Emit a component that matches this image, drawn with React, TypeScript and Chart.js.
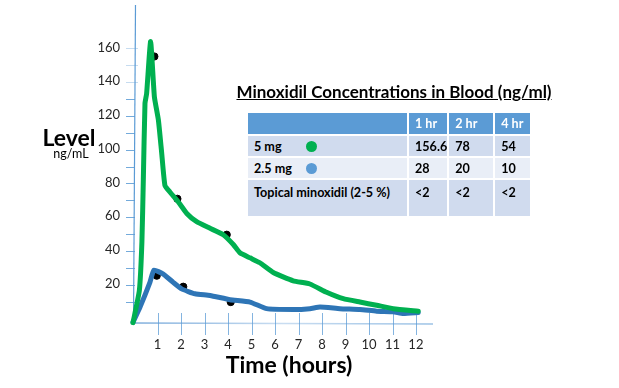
import React, { useEffect, useRef } from "react";
import { Chart, registerables } from "chart.js";

Chart.register(...registerables);

// Hand-drawn concentration curves (hours, ng/mL)
const greenHours = [0, 0.27, 0.38, 0.44, 0.51, 0.58, 0.75, 0.91, 1.08, 1.22, 1.36, 1.57, 1.93, 2.29, 2.71, 3.28, 3.84, 4.27, 4.55, 4.98, 5.4, 5.97, 6.82, 7.53, 8.24, 8.95, 9.66, 10.37, 11.08, 12.14];
const greenLevels = [-2.5, 16.5, 45.7, 82.4, 127.4, 133.2, 164.1, 131.4, 117.6, 98.2, 78.8, 74.9, 69.0, 62.2, 57.3, 53.4, 49.6, 43.8, 38.9, 35.9, 33.0, 27.2, 22.3, 20.4, 15.5, 11.7, 9.7, 7.8, 5.8, 4.3];
const blueHours = [0, 0.3, 0.72, 0.89, 1.29, 1.71, 2.07, 2.64, 3.28, 4.13, 4.98, 5.69, 6.82, 7.53, 7.96, 8.81, 9.66, 10.37, 11.08, 11.5, 12.14];
const blueLevels = [-2.2, 6.8, 21.4, 28.6, 26.3, 21.4, 17.5, 14.6, 13.6, 11.1, 9.7, 5.8, 5.3, 5.8, 6.8, 5.8, 5.3, 4.3, 3.9, 2.9, 3.5];
// Measured points (black dots)
const dotHours = [0.91, 1.89, 3.99, 1.01, 2.14, 4.16];
const dotLevels = [155.2, 70.9, 49.6, 25.3, 18.8, 9.7];

const yTickLabels = [20, 40, 60, 80, 100, 120, 140, 160];
const yTickMarks = [10, 20, 30, 40, 50, 60, 70, 80, 90, 100, 110, 120, 130, 140, 150, 160];
const xTickLabels = [1, 2, 3, 4, 5, 6, 7, 8, 9, 10, 11, 12];

const tableTitle = "Minoxidil Concentrations in Blood (ng/ml)";
const tableHeader = ["", "1 hr", "2 hr", "4 hr"];
const tableRows = [
  { label: "5 mg", dot: "#00B050", values: ["156.6", "78", "54"] },
  { label: "2.5 mg", dot: "#5B9BD5", values: ["28", "20", "10"] },
  { label: "Topical minoxidil (2-5 %)", dot: "", values: ["<2", "<2", "<2"] },
];

const FONT = "Lato, 'Open Sans', sans-serif";

const axesPlugin = {
  id: "handAxes",
  beforeDatasetsDraw(chart: any) {
    const { ctx, chartArea, scales } = chart;
    const xs = scales.x;
    const ys = scales.y;
    const x0 = xs.getPixelForValue(0);
    const bottom = chartArea.bottom;
    ctx.save();
    // y axis
    ctx.strokeStyle = "#5B9BD5";
    ctx.lineWidth = 1.2;
    ctx.beginPath();
    ctx.moveTo(x0 + 2.5, chartArea.top);
    ctx.lineTo(x0 + 0.5, bottom);
    ctx.stroke();
    // y tick marks
    yTickMarks.forEach((v) => {
      const y = ys.getPixelForValue(v);
      ctx.strokeStyle = v >= 140 ? "rgba(91,155,213,0.35)" : "rgba(91,155,213,0.85)";
      ctx.lineWidth = 1;
      ctx.beginPath();
      ctx.moveTo(x0 - 7, Math.round(y) + 0.5);
      ctx.lineTo(x0 + (v >= 140 ? 5 : 2), Math.round(y) + 0.5);
      ctx.stroke();
    });
    // x axis
    const grad = ctx.createLinearGradient(x0, 0, chartArea.right, 0);
    grad.addColorStop(0, "#7FAEDC");
    grad.addColorStop(0.5, "#C9DDF1");
    grad.addColorStop(1, "#9CC2E5");
    ctx.strokeStyle = grad;
    ctx.lineWidth = 1.3;
    ctx.beginPath();
    ctx.moveTo(x0 - 1, bottom);
    ctx.lineTo(chartArea.right, bottom + 1);
    ctx.stroke();
    // x tick marks
    xTickLabels.forEach((v) => {
      const x = Math.round(xs.getPixelForValue(v) + 1.5) + 0.5;
      ctx.strokeStyle = "rgba(91,155,213,0.75)";
      ctx.lineWidth = 1;
      ctx.beginPath();
      ctx.moveTo(x, bottom - 10);
      ctx.lineTo(x, bottom + 12);
      ctx.stroke();
    });
    ctx.restore();
  },
  afterDraw(chart: any) {
    const { ctx, chartArea, scales } = chart;
    const xs = scales.x;
    const ys = scales.y;
    const x0 = xs.getPixelForValue(0);
    ctx.save();
    ctx.fillStyle = "#262626";
    ctx.font = `13px ${FONT}`;
    ctx.textAlign = "right";
    ctx.textBaseline = "middle";
    yTickLabels.forEach((v) => {
      ctx.fillText(String(v), x0 - 13, ys.getPixelForValue(v) - 1);
    });
    ctx.textAlign = "center";
    xTickLabels.forEach((v) => {
      ctx.fillText(String(v), xs.getPixelForValue(v) + 1, chartArea.bottom + 22);
    });
    ctx.fillStyle = "#000";
    ctx.font = `bold 23px ${FONT}`;
    ctx.textBaseline = "alphabetic";
    ctx.fillText("Level", 69, 146);
    ctx.font = `12.5px ${FONT}`;
    ctx.textBaseline = "middle";
    ctx.fillText("ng/mL", 71, 154);
    ctx.font = `bold 23px ${FONT}`;
    ctx.fillText("Time (hours)", 289, 366);
    ctx.restore();
  },
};

function DataTable() {
  const colW = [159, 38, 44, 35];
  const cell = (bg: string, extra: any = {}) => ({
    background: bg,
    padding: "0 0 0 6px",
    border: "none",
    ...extra,
  });
  return (
    <div style={{ position: "absolute", left: 0, top: 0, width: 619, height: 388, pointerEvents: "none" }}>
      <div
        style={{
          position: "absolute",
          left: 236,
          top: 81,
          width: 316,
          textAlign: "center",
          font: `bold 17px ${FONT}`,
          textDecoration: "underline",
          color: "#000",
          whiteSpace: "nowrap",
        }}
      >
        {tableTitle}
      </div>
      <table
        style={{
          position: "absolute",
          left: 246,
          top: 111,
          borderCollapse: "separate",
          borderSpacing: "2px",
          font: `bold 12.6px ${FONT}`,
          color: "#000",
          tableLayout: "fixed",
        }}
      >
        <colgroup>
          {colW.map((w, i) => (
            <col key={i} style={{ width: w }} />
          ))}
        </colgroup>
        <tbody>
          <tr style={{ height: 21 }}>
            {tableHeader.map((h, i) => (
              <td key={i} style={cell("#5B9BD5", { color: "#fff" })}>
                {h}
              </td>
            ))}
          </tr>
          {tableRows.map((r, ri) => {
            const bg = ri === 1 ? "#E9EEF7" : "#D0DBEE";
            const tall = ri === 2;
            return (
              <tr key={ri} style={{ height: tall ? 36 : 20 }}>
                <td style={cell(bg, { verticalAlign: tall ? "top" : "middle", paddingTop: tall ? 5 : 0, whiteSpace: "nowrap", position: "relative" })}>
                  {r.label}
                  {r.dot && (
                    <span
                      style={{
                        position: "absolute",
                        left: 58,
                        top: "50%",
                        width: 11,
                        height: 11,
                        marginTop: -5.5,
                        borderRadius: "50%",
                        background: r.dot,
                      }}
                    />
                  )}
                </td>
                {r.values.map((v, vi) => (
                  <td key={vi} style={cell(bg, { verticalAlign: tall ? "top" : "middle", paddingTop: tall ? 5 : 0, whiteSpace: "nowrap" })}>
                    {v}
                  </td>
                ))}
              </tr>
            );
          })}
        </tbody>
      </table>
    </div>
  );
}

export default function App() {
  const canvasRef = useRef<HTMLCanvasElement>(null);

  useEffect(() => {
    if (!canvasRef.current) return;
    const chart = new Chart(canvasRef.current, {
      type: "line",
      data: {
        datasets: [
          {
            label: "5 mg",
            data: greenHours.map((h, i) => ({ x: h, y: greenLevels[i] })),
            borderColor: "#00B050",
            borderWidth: 5,
            pointRadius: 0,
            tension: 0.15,
            borderJoinStyle: "round",
            borderCapStyle: "round",
            order: 0,
          },
          {
            label: "2.5 mg",
            data: blueHours.map((h, i) => ({ x: h, y: blueLevels[i] })),
            borderColor: "#2E75B6",
            borderWidth: 5,
            pointRadius: 0,
            tension: 0.15,
            borderJoinStyle: "round",
            borderCapStyle: "round",
            order: 0,
          },
          {
            label: "measured",
            type: "scatter",
            data: dotHours.map((h, i) => ({ x: h, y: dotLevels[i] })),
            backgroundColor: "#000",
            borderColor: "#000",
            pointRadius: 3.6,
            showLine: false,
            order: 1,
          } as any,
        ],
      },
      options: {
        animation: false,
        responsive: false,
        devicePixelRatio: 1,
        clip: false as any,
        layout: { padding: { left: 133, right: 186, top: 0, bottom: 65 } },
        plugins: { legend: { display: false }, tooltip: { enabled: false }, title: { display: false } },
        scales: {
          x: { type: "linear", min: 0, max: 12.77, display: false },
          y: { type: "linear", min: -2.7, max: 185.7, display: false },
        },
      },
      plugins: [axesPlugin],
    });
    return () => chart.destroy();
  }, []);

  return (
    <div style={{ position: "fixed", left: 0, top: 0, width: 619, height: 388, background: "#fff" }}>
      <canvas ref={canvasRef} width={619} height={388} style={{ position: "absolute", left: 0, top: 0 }} />
      <DataTable />
    </div>
  );
}
